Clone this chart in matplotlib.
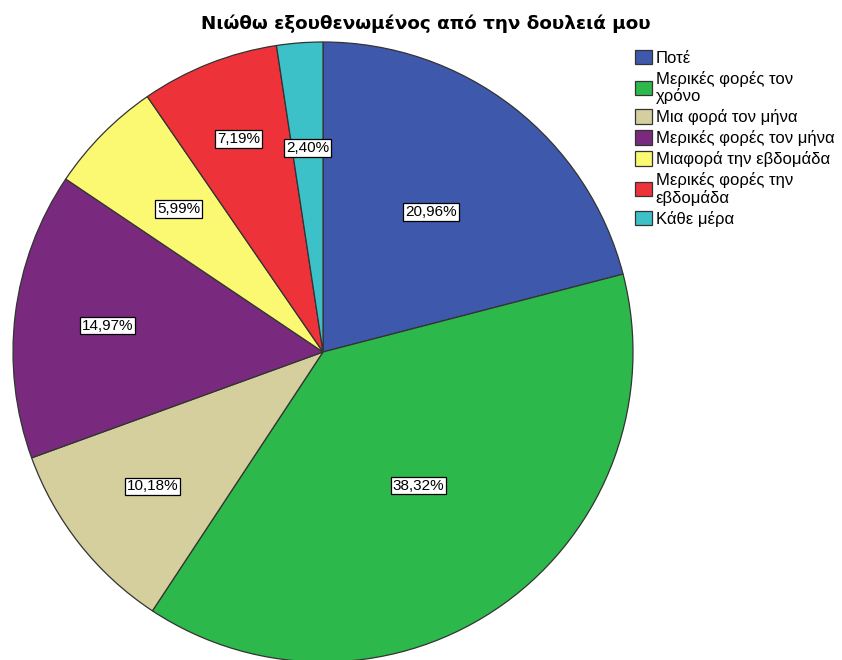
import numpy as np
import matplotlib
matplotlib.use("Agg")
import matplotlib.pyplot as plt
from matplotlib.patches import Patch

plt.rcParams['font.family'] = ['Liberation Sans', 'DejaVu Sans']

title = "Νιώθω εξουθενωμένος από την δουλειά μου"
categories = [
    "Ποτέ",
    "Μερικές φορές τον\nχρόνο",
    "Μια φορά τον μήνα",
    "Μερικές φορές τον μήνα",
    "Μιαφορά την εβδομάδα",
    "Μερικές φορές την\nεβδομάδα",
    "Κάθε μέρα",
]
percentages = [20.96, 38.32, 10.18, 14.97, 5.99, 7.19, 2.40]
colors = ["#3E58AC", "#2DB84B", "#D4CF9C", "#7A2A7E", "#FBF871", "#EE3239", "#3DC1C8"]
# radial position of each percentage label, as a fraction of the radius
label_radius = [0.57, 0.53, 0.70, 0.70, 0.655, 0.74, 0.66]

W, H = 842, 660
fig = plt.figure(figsize=(W / 100, H / 100), dpi=100)

cx, cy, r = 323, 352, 310
ax = fig.add_axes([(cx - r) / W, (H - cy - r) / H, 2 * r / W, 2 * r / H])
wedges, _ = ax.pie(
    percentages,
    colors=colors,
    startangle=90,
    counterclock=False,
    radius=1.0,
    wedgeprops=dict(edgecolor="#333333", linewidth=0.9),
)
ax.set_xlim(-1, 1)
ax.set_ylim(-1, 1)
ax.set_aspect("equal")
ax.axis("off")

for w, val, lr in zip(wedges, percentages, label_radius):
    ang = np.deg2rad((w.theta1 + w.theta2) / 2)
    ax.text(lr * np.cos(ang), lr * np.sin(ang), f"{val:.2f}%".replace(".", ","),
            ha="center", va="center", fontsize=11, color="black",
            bbox=dict(boxstyle="square,pad=0.12", facecolor="white",
                      edgecolor="black", linewidth=0.9))

fig.text(426 / W, 1 - 24 / H, title, ha="center", va="center", fontsize=13.2,
         fontweight="bold", family=["DejaVu Sans"])

handles = [Patch(facecolor=c, edgecolor="#333333", linewidth=0.9) for c in colors]
leg = fig.legend(handles, categories, loc="upper left", bbox_to_anchor=(635 / W, 1 - 50 / H),
                 frameon=False, fontsize=12, handlelength=1.0, handleheight=0.95,
                 handletextpad=0.25, labelspacing=0.3, borderpad=0, borderaxespad=0)
for t in leg.get_texts():
    t.set_linespacing(1.1)

fig.savefig("out.png", dpi=100, facecolor="white")
